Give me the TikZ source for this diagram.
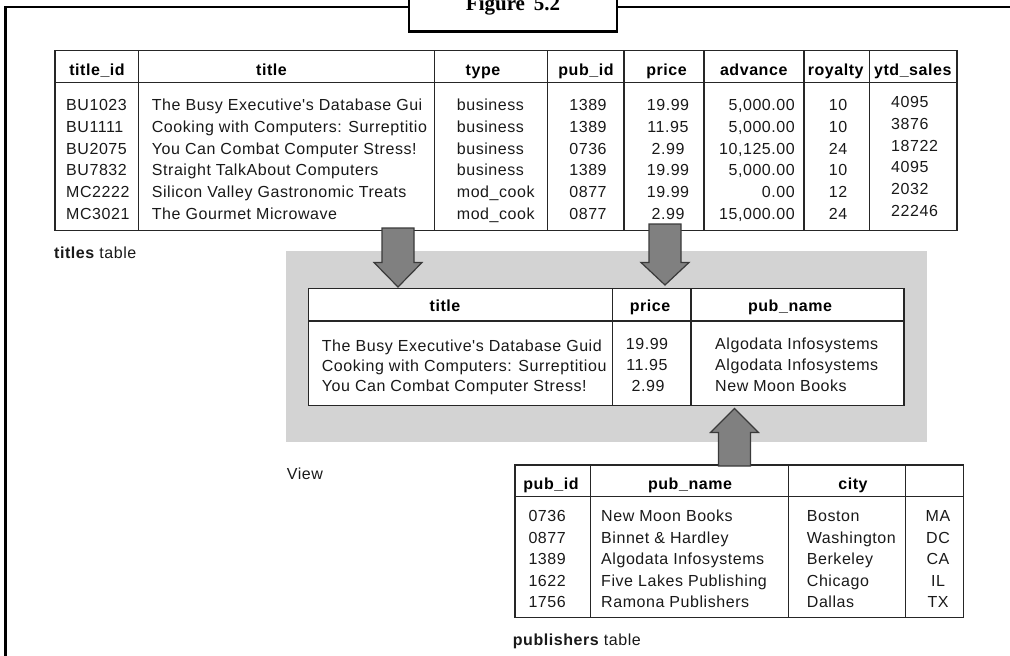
\documentclass[tikz,border=0pt]{standalone}
\usepackage{fontspec}
\setmainfont{Liberation Sans}
\newfontfamily\tabfont{Liberation Sans}[LetterSpace=3.5]
\newfontfamily\capfont{Liberation Serif}
\definecolor{viewgrey}{RGB}{211,211,211}
\definecolor{arrowfill}{RGB}{128,128,128}
\definecolor{arrowline}{RGB}{58,58,58}

% one row of the titles table
\newcommand\titlerow[9]{%
  \pgfmathsetmacro\ry{110.7+21.7*(#1-1)}%
  \node[cell,anchor=base west] (ti-id-#1) at (66,\ry) {#2};
  \node[cell,anchor=base west] (ti-title-#1) at (151.7,\ry) {#3};
  \node[cell,anchor=base west] (ti-type-#1) at (456.7,\ry) {#4};
  \node[cell,anchor=base] (ti-pub-#1) at (588,\ry) {#5};
  \node[cell,anchor=base] (ti-price-#1) at (668,\ry) {#6};
  \node[cell,anchor=base east] (ti-adv-#1) at (795,\ry) {#7};
  \node[cell,anchor=base] (ti-roy-#1) at (838,\ry) {#8};
  \node[cell,anchor=base west] (ti-ytd-#1) at (891,\ry-3) {#9};
}
% one row of the publishers table
\newcommand\pubrow[5]{%
  \pgfmathsetmacro\ry{521.7+21.5*(#1-1)}%
  \node[cell,anchor=base west] (pu-id-#1) at (528.3,\ry) {#2};
  \node[cell,anchor=base west] (pu-name-#1) at (601,\ry) {#3};
  \node[cell,anchor=base west] (pu-city-#1) at (806.7,\ry) {#4};
  \node[cell,anchor=base] (pu-state-#1) at (938,\ry) {#5};
}
% block arrow: centre x, base y, shoulder y, tip y
\newcommand\blockarrow[4]{%
  \draw[blockarrow] (#1-16,#2) -- (#1-16,#3) -- (#1-24,#3) -- (#1,#4)
    -- (#1+24,#3) -- (#1+16,#3) -- (#1+16,#2) -- cycle;
}

\begin{document}
\begin{tikzpicture}[x=1pt,y=-1pt,
  cell/.style={font=\tabfont\fontsize{16}{18}\selectfont, inner sep=0pt, text=black!90},
  head/.style={font=\tabfont\bfseries\fontsize{16}{18}\selectfont, inner sep=0pt, anchor=base, text=black},
  grid/.style={draw=black!85, line width=1.2pt},
  frame/.style={draw=black, line width=2.6pt},
  blockarrow/.style={fill=arrowfill, draw=arrowline, line width=1.2pt, line join=miter}]

\useasboundingbox (0,0) rectangle (1010,656);

% outer frame with the caption tab
\draw[frame] (5.5,656) -- (5.5,7) -- (409,7);
\draw[frame] (617,7) -- (1010,7);
\draw[frame] (409,0) -- (409,31.5) -- (617,31.5) -- (617,0);
\node[font=\capfont\bfseries\fontsize{21}{24}\selectfont, anchor=base, inner sep=0pt]
  (caption) at (513,10.5) {Figure\,\ 5.2};

% ---------- titles table ----------
\draw[grid] (55,50.5) rectangle (957,230.5);
\draw[grid] (55,82.3) -- (957,82.3);
\foreach \cx in {138.3,434.3,547.3,624,704,804,869.3}
  \draw[grid] (\cx,50.5) -- (\cx,230.5);

\node[head] (th-id) at (97,75) {title\_id};
\node[head] (th-title) at (271.5,75) {title};
\node[head] (th-type) at (483,75) {type};
\node[head] (th-pub) at (586,75) {pub\_id};
\node[head] (th-price) at (666.5,75) {price};
\node[head] (th-adv) at (753.7,75) {advance};
\node[head] (th-roy) at (835.7,75) {royalty};
\node[head] (th-ytd) at (912.8,75) {ytd\_sales};

\titlerow{1}{BU1023}{The Busy Executive's Database Gui}{business}{1389}{19.99}{5,000.00}{10}{4095}
\titlerow{2}{BU1111}{Cooking with Computers: Surreptitio}{business}{1389}{11.95}{5,000.00}{10}{3876}
\titlerow{3}{BU2075}{You Can Combat Computer Stress!}{business}{0736}{2.99}{10,125.00}{24}{18722}
\titlerow{4}{BU7832}{Straight TalkAbout Computers}{business}{1389}{19.99}{5,000.00}{10}{4095}
\titlerow{5}{MC2222}{Silicon Valley Gastronomic Treats}{mod\_cook}{0877}{19.99}{0.00}{12}{2032}
\titlerow{6}{MC3021}{The Gourmet Microwave}{mod\_cook}{0877}{2.99}{15,000.00}{24}{22246}

\node[cell,anchor=base west] (titles-label) at (54,258) {\bfseries titles\mdseries\ table};

% ---------- view ----------
\fill[viewgrey] (286,251) rectangle (926.7,442.3);
\draw[grid, fill=white] (308.3,288.3) rectangle (904,405.7);
\draw[grid] (308.3,321) -- (904,321);
\draw[grid] (612.7,288.3) -- (612.7,405.7);
\draw[grid] (691,288.3) -- (691,405.7);

\node[head] (vh-title) at (445,311.7) {title};
\node[head] (vh-price) at (650,311.7) {price};
\node[head] (vh-pub) at (790,311.7) {pub\_name};

\node[cell,anchor=base west] (v-title-1) at (321.7,351.7) {The Busy Executive's Database Guid};
\node[cell,anchor=base west] (v-title-2) at (321.7,371.7) {Cooking with Computers: Surreptitiou};
\node[cell,anchor=base west] (v-title-3) at (321.7,391.7) {You Can Combat Computer Stress!};
\node[cell,anchor=base] (v-price-1) at (647,349) {19.99};
\node[cell,anchor=base] (v-price-2) at (647,370) {11.95};
\node[cell,anchor=base] (v-price-3) at (648,391) {2.99};
\node[cell,anchor=base west] (v-pub-1) at (715,349) {Algodata Infosystems};
\node[cell,anchor=base west] (v-pub-2) at (715,370) {Algodata Infosystems};
\node[cell,anchor=base west] (v-pub-3) at (715,391.7) {New Moon Books};

\node[cell,anchor=base west] (view-label) at (286.7,479.3) {View};

% ---------- publishers table ----------
\draw[grid] (515,465) rectangle (963.3,617.3);
\draw[grid] (515,496.7) -- (963.3,496.7);
\foreach \cx in {590.7,788.3,905.7}
  \draw[grid] (\cx,465) -- (\cx,617.3);

\node[head] (ph-id) at (551,489.3) {pub\_id};
\node[head] (ph-name) at (690,489.3) {pub\_name};
\node[head] (ph-city) at (853,489.3) {city};

\pubrow{1}{0736}{New Moon Books}{Boston}{MA}
\pubrow{2}{0877}{Binnet \& Hardley}{Washington}{DC}
\pubrow{3}{1389}{Algodata Infosystems}{Berkeley}{CA}
\pubrow{4}{1622}{Five Lakes Publishing}{Chicago}{IL}
\pubrow{5}{1756}{Ramona Publishers}{Dallas}{TX}

\node[cell,anchor=base west] (publishers-label) at (512.7,645) {\bfseries publishers\mdseries\ table};

% ---------- block arrows feeding the view ----------
\blockarrow{398}{228}{262.5}{287}
\blockarrow{665}{224}{262.5}{285}
\blockarrow{734.5}{466}{432.5}{408.5}

\end{tikzpicture}
\end{document}
